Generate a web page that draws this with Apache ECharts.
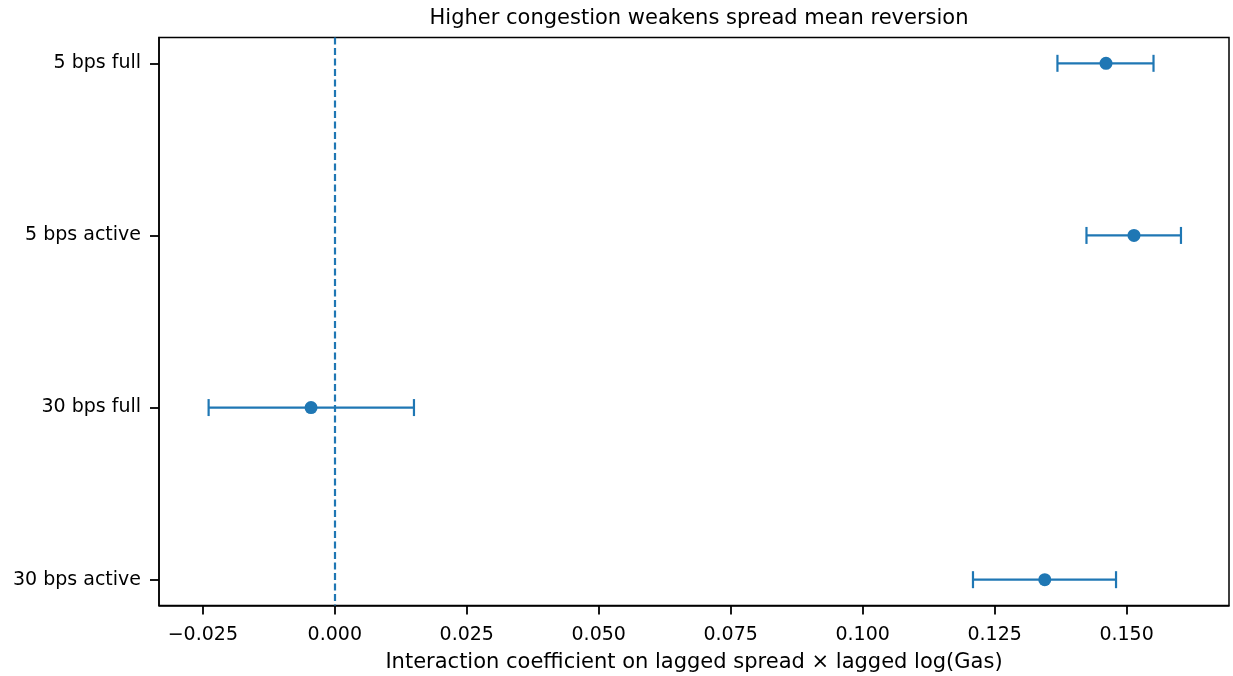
<!DOCTYPE html>
<html>
<head>
<meta charset="utf-8">
<script src="https://cdn.jsdelivr.net/npm/echarts@6.0.0/dist/echarts.min.js"></script>
<style>
  html, body { margin: 0; padding: 0; background: #fff; }
  #chart { width: 1233px; height: 676px; }
</style>
</head>
<body>
<div id="chart"></div>
<script>
const categories = ['5 bps full', '5 bps active', '30 bps full', '30 bps active'];
const coef = [0.1461, 0.1514, -0.0045, 0.1345];
const lower = [0.1369, 0.1424, -0.0239, 0.1209];
const upper = [0.1551, 0.1603, 0.0150, 0.1480];
const xTicks = [-0.025, 0, 0.025, 0.05, 0.075, 0.1, 0.125, 0.15];
const yTicks = [0, 1, 2, 3];

const blue = '#1f77b4';
const font = 'DejaVu Sans';

const chart = echarts.init(document.getElementById('chart'));

const pointData = coef.map((v, i) => [v, i]);
const barData = coef.map((v, i) => [i, lower[i], upper[i]]);

const option = {
  animation: false,
  title: {
    text: 'Higher congestion weakens spread mean reversion',
    left: 694,
    textAlign: 'center',
    top: 3,
    textStyle: { fontFamily: font, fontSize: 21, fontWeight: 'normal', color: '#000' }
  },
  grid: {
    left: 159,
    right: 4,
    top: 37.5,
    bottom: 70.5,
    outerBoundsMode: 'none',
    show: true,
    borderColor: '#000',
    borderWidth: 1.5,
    backgroundColor: 'transparent'
  },
  xAxis: {
    type: 'value',
    min: -0.0333,
    max: 0.1694,
    name: 'Interaction coefficient on lagged spread × lagged log(Gas)',
    nameLocation: 'middle',
    nameGap: 47,
    nameTextStyle: { fontFamily: font, fontSize: 21, color: '#000' },
    axisLine: { show: true, onZero: false, lineStyle: { color: '#000', width: 1.5 } },
    axisTick: { show: true, customValues: xTicks, length: 9, lineStyle: { color: '#000', width: 1.8 } },
    axisLabel: {
      customValues: xTicks,
      margin: 20,
      fontFamily: font,
      fontSize: 19,
      color: '#000',
      formatter: v => v.toFixed(3).replace('-', '\u2212')
    },
    splitLine: { show: false }
  },
  yAxis: {
    type: 'value',
    min: -0.15,
    max: 3.15,
    inverse: true,
    axisLine: { show: true, onZero: false, lineStyle: { color: '#000', width: 1.5 } },
    axisTick: { show: true, customValues: yTicks, length: 9, lineStyle: { color: '#000', width: 1.8 } },
    axisLabel: {
      customValues: yTicks,
      margin: 18,
      fontFamily: font,
      fontSize: 19,
      color: '#000',
      formatter: v => categories[Math.round(v)]
    },
    splitLine: { show: false }
  },
  series: [
    {
      type: 'custom',
      data: barData,
      encode: { x: [1, 2], y: 0 },
      z: 3,
      renderItem: function (params, api) {
        const y = api.value(0);
        const a = api.coord([api.value(1), y]);
        const b = api.coord([api.value(2), y]);
        const cap = 8.5;
        const style = { stroke: blue, lineWidth: 2.2 };
        return {
          type: 'group',
          children: [
            { type: 'line', shape: { x1: a[0], y1: a[1], x2: b[0], y2: b[1] }, style: style },
            { type: 'line', shape: { x1: a[0], y1: a[1] - cap, x2: a[0], y2: a[1] + cap }, style: style },
            { type: 'line', shape: { x1: b[0], y1: b[1] - cap, x2: b[0], y2: b[1] + cap }, style: style }
          ]
        };
      }
    },
    {
      type: 'scatter',
      data: pointData,
      symbol: 'circle',
      symbolSize: 13,
      z: 4,
      itemStyle: { color: blue, opacity: 1 },
      markLine: {
        silent: true,
        symbol: 'none',
        label: { show: false },
        lineStyle: { color: blue, width: 2.2, type: [7, 3.5], opacity: 1 },
        data: [{ xAxis: 0 }]
      }
    }
  ]
};

chart.setOption(option);
</script>
</body>
</html>
